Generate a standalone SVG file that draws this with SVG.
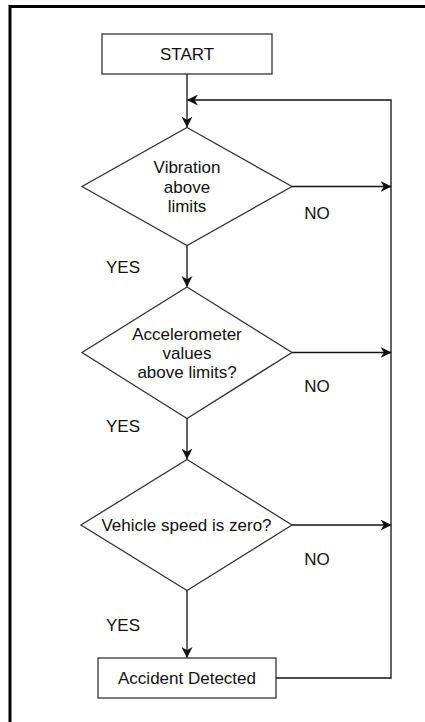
<svg xmlns="http://www.w3.org/2000/svg" width="425" height="722" viewBox="0 0 425 722">
<style>
.shape{fill:#fff;stroke:#333;stroke-width:1.3}
.edge{fill:none;stroke:#111;stroke-width:1.3}
text{font-family:"Liberation Sans",Arial,sans-serif;font-size:17px;fill:#111;text-anchor:middle;dominant-baseline:central}
</style>
<defs>
<marker id="arr" viewBox="0 0 10 10" refX="9.5" refY="5" markerWidth="11" markerHeight="11" markerUnits="userSpaceOnUse" orient="auto">
<path d="M0,0 L10,5 L0,10 L3,5 z" fill="#111"/>
</marker>
</defs>
<rect x="0" y="0" width="425" height="722" fill="#fff"/>
<path d="M10,722 V6.5 H425" fill="none" stroke="#000" stroke-width="3"/>
<g id="start">
<rect class="shape" x="102" y="34" width="170" height="40"/>
<text x="187" y="54">START</text>
</g>
<g id="d1">
<polygon class="shape" points="187,127.5 292,186.5 187,245.5 82,186.5"/>
<text x="187" y="167">Vibration</text>
<text x="187" y="187">above</text>
<text x="187" y="206">limits</text>
</g>
<g id="d2">
<polygon class="shape" points="187,287 292,352.5 187,418.5 82,352.5"/>
<text x="187" y="334">Accelerometer</text>
<text x="187" y="353">values</text>
<text x="187" y="372">above limits?</text>
</g>
<g id="d3">
<polygon class="shape" points="187,459.5 292,525 187,590.5 81,525"/>
<text x="186.5" y="525">Vehicle speed is zero?</text>
</g>
<g id="accident">
<rect class="shape" x="98" y="658" width="178" height="40"/>
<text x="187" y="678">Accident Detected</text>
</g>
<g id="connectors">
<path class="edge" d="M187,74 V127" marker-end="url(#arr)"/>
<path class="edge" d="M187,245.5 V286.5" marker-end="url(#arr)"/>
<path class="edge" d="M187,418.5 V459" marker-end="url(#arr)"/>
<path class="edge" d="M187,590.5 V657.5" marker-end="url(#arr)"/>
<path class="edge" d="M292,186.5 H391" marker-end="url(#arr)"/>
<path class="edge" d="M292,352.5 H391" marker-end="url(#arr)"/>
<path class="edge" d="M292,525 H391" marker-end="url(#arr)"/>
<path class="edge" d="M276,678 H391 V100 H187.5" marker-end="url(#arr)"/>
<text x="123" y="267">YES</text>
<text x="123" y="426">YES</text>
<text x="123" y="625">YES</text>
<text x="317" y="213">NO</text>
<text x="317" y="386">NO</text>
<text x="317" y="559">NO</text>
</g>
</svg>
